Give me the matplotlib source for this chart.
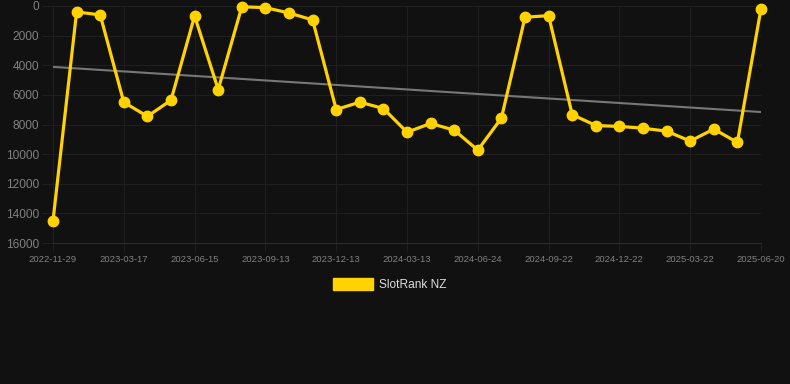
import matplotlib
matplotlib.use("Agg")
import matplotlib.pyplot as plt
import numpy as np

plt.rcParams['font.family'] = ['Liberation Sans', 'DejaVu Sans']

# rank values, one per snapshot (lower is better)
ranks = [14500, 400, 600, 6500, 7450, 6360, 670, 5640, 50, 110, 470, 940,
         6990, 6490, 6920, 8520, 7930, 8380, 9730, 7570, 760, 650, 7330,
         8070, 8130, 8250, 8450, 9120, 8310, 9210, 180]
tick_labels = ["2022-11-29", "2023-03-17", "2023-06-15", "2023-09-13", "2023-12-13",
               "2024-03-13", "2024-06-24", "2024-09-22", "2024-12-22", "2025-03-22",
               "2025-06-20"]
y_ticks = [0, 2000, 4000, 6000, 8000, 10000, 12000, 14000, 16000]

bg = "#111111"
gold = "#FFD200"
grid_c = "#1f1f1f"

fig = plt.figure(figsize=(7.9, 3.84), dpi=100, facecolor=bg)
ax = fig.add_axes([53/790, 1 - 243/384, (761-53)/790, (243-6)/384], facecolor=bg)

x = np.arange(len(ranks))

# trend line (linear fit)
k, b = np.polyfit(x, ranks, 1)
ax.plot(x, k*x + b, color="#777777", lw=1.5, zorder=2)

ax.plot(x, ranks, color=gold, lw=2.3, marker='o', markersize=7.5, zorder=3, clip_on=False)

ax.set_xlim(0, len(ranks) - 1)
ax.set_ylim(16000, 0)
ax.set_yticks(y_ticks)
ax.set_yticklabels([str(v) for v in y_ticks])
ax.set_xticks(x[::3])
ax.set_xticklabels(tick_labels)

ax.grid(True, color=grid_c, lw=0.8)
for s in ax.spines.values():
    s.set_visible(False)
ax.spines['bottom'].set_visible(True)
ax.spines['bottom'].set_color("#2a2a2a")
ax.tick_params(axis='y', colors=grid_c, labelcolor="#808080", labelsize=8.6, length=8, pad=2)
ax.tick_params(axis='x', colors=grid_c, labelcolor="#808080", labelsize=6.8, length=6, pad=3)

# legend
fig.patches.append(plt.Rectangle((333/790, 1 - 290/384), 40/790, 12/384,
                                 transform=fig.transFigure, color=gold))
fig.text(379/790, 1 - 285/384, "SlotRank NZ", color="#dddddd", fontsize=8.6, va='center')

fig.savefig("out.png", dpi=100, facecolor=bg)
